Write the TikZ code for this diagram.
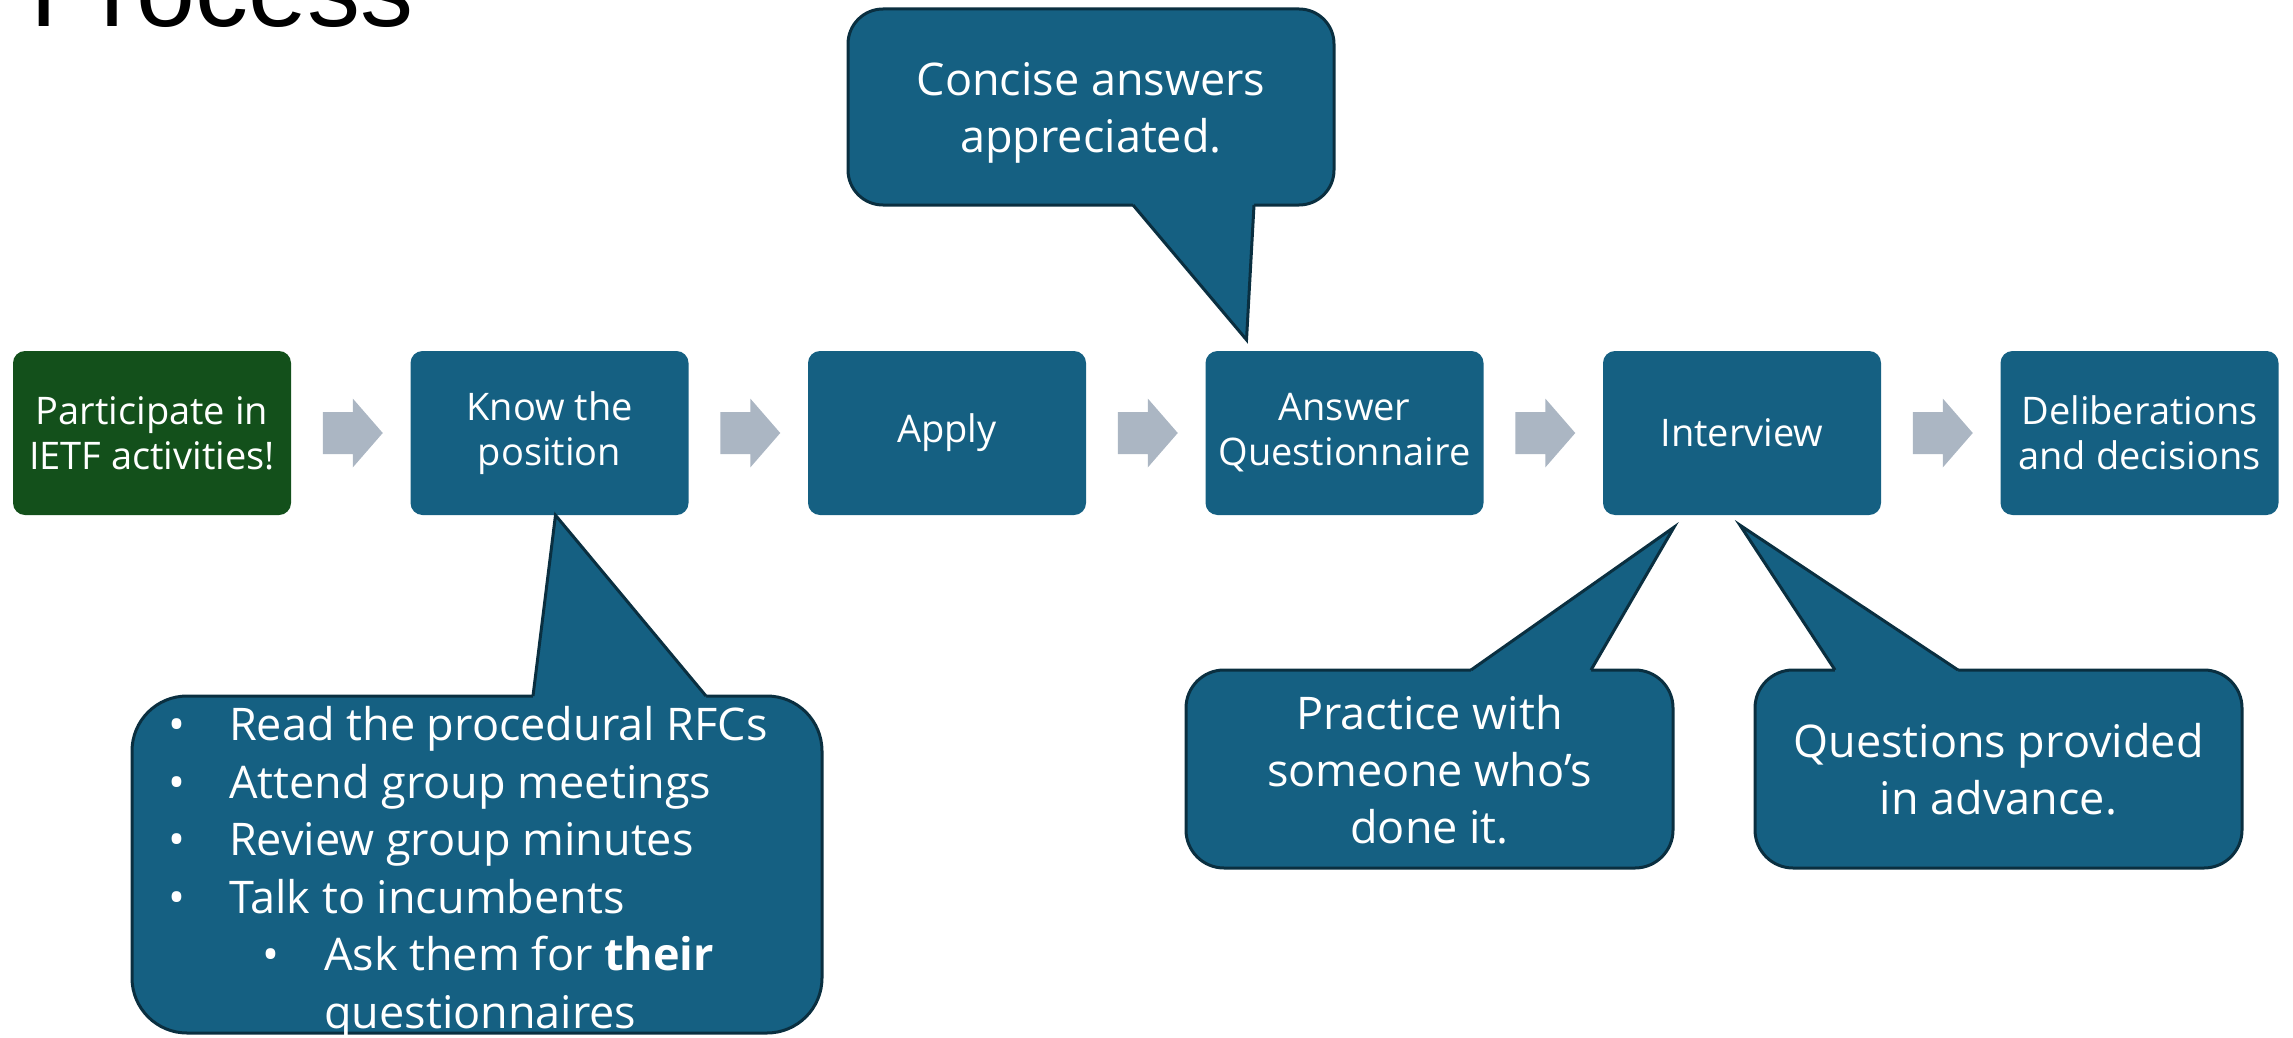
\documentclass[tikz,border=0pt]{standalone}
\usepackage{fontspec}
\setmainfont{Open Sans}
\newfontfamily\titlefont{Liberation Sans}
\usetikzlibrary{calc}

\definecolor{stepblue}{HTML}{156082}
\definecolor{stepgreen}{HTML}{13501B}
\definecolor{calloutline}{HTML}{0A2F40}
\definecolor{arrowgray}{HTML}{ABB6C3}

\tikzset{
  stepbox/.style={rectangle, rounded corners=12pt, fill=stepblue, text=white,
    minimum width=278pt, minimum height=164pt, align=center, inner sep=0pt,
    font=\fontsize{38}{45}\selectfont},
  callout/.style={rectangle, rounded corners=35pt, fill=stepblue, draw=calloutline,
    line width=3pt, outer sep=0pt, text=white, align=center, inner sep=0pt,
    text depth=0pt, font=\fontsize{45}{57}\selectfont},
  tailedge/.style={draw=calloutline, line width=3pt},
  listtext/.style={text=white, align=left, inner sep=0pt, font=\fontsize{45}{57.6}\selectfont},
  flowarrow/.style={fill=arrowgray},
}

\begin{document}
\begin{tikzpicture}[x=1pt, y=-1pt]
\useasboundingbox (0,0) rectangle (2293,1038);

% heading, cut off by the top edge
\node[anchor=base west, inner sep=0pt, font=\titlefont\fontsize{106}{120}\selectfont] (title) at (30,27) {Process};

% process steps
\node[stepbox, fill=stepgreen] (part) at (152,433) {Participate in\\IETF activities!};
\node[stepbox] (know) at (549.5,433) {Know the\\position};
\node[stepbox] (apply) at (947,433) {Apply};
\node[stepbox] (answer) at (1344.5,433) {Answer\\Questionnaire};
\node[stepbox] (interview) at (1742,433) {Interview};
\node[stepbox] (decide) at (2139.5,433) {Deliberations\\and decisions};

% block arrows between the steps
\foreach \a/\b in {part/know, know/apply, apply/answer, answer/interview, interview/decide}
  \fill[flowarrow] ($(\a.east)!0.5!(\b.west)+(-28,-21)$) -- ++(30,0) -- ++(0,-13.5) -- ++(30,34.5)
    -- ++(-30,34.5) -- ++(0,-13.5) -- ++(-30,0) -- cycle;

% callout over the questionnaire
\node[callout, minimum width=486pt, minimum height=196pt] (concise) at (1091,107) {Concise answers\\appreciated.};
\coordinate (concise-l) at ($(concise.south)+(42,0)$);
\coordinate (concise-r) at ($(concise.south)+(163,0)$);
\coordinate (concise-tip) at ($(answer.north)+(-98,-11)$);
\fill[stepblue] ($(concise-l)+(0,-5)$) -- (concise-l) -- (concise-tip) -- (concise-r) -- ($(concise-r)+(0,-5)$) -- cycle;
\draw[tailedge] (concise-l) -- (concise-tip) -- (concise-r);

% callout under the position
\node[callout, rounded corners=55pt, minimum width=690pt, minimum height=337pt] (tips) at (477,864.5) {};
\coordinate (tips-l) at ($(tips.north)+(56,0)$);
\coordinate (tips-r) at ($(tips.north)+(229,0)$);
\coordinate (tips-tip) at ($(know.south)+(6,0)$);
\fill[stepblue] ($(tips-l)+(0,5)$) -- (tips-l) -- (tips-tip) -- (tips-r) -- ($(tips-r)+(0,5)$) -- cycle;
\draw[tailedge] (tips-l) -- (tips-tip) -- (tips-r);
\node[listtext, anchor=north west] (tiplist) at (168,706) {%
  \makebox[61pt][l]{\textbullet}Read the procedural RFCs\\
  \makebox[61pt][l]{\textbullet}Attend group meetings\\
  \makebox[61pt][l]{\textbullet}Review group minutes\\
  \makebox[61pt][l]{\textbullet}Talk to incumbents\\
  \hspace*{94.5pt}\makebox[61.5pt][l]{\textbullet}Ask them for \textbf{their}\\
  \hspace*{156pt}questionnaires};

% callouts under the interview
\node[callout, rounded corners=38pt, minimum width=487pt, minimum height=198pt] (practice) at (1429.5,769) {Practice with\\someone who’s\\done it.};
\coordinate (practice-l) at ($(practice.north)+(41.5,0)$);
\coordinate (practice-r) at ($(practice.north)+(161.5,0)$);
\coordinate (practice-tip) at ($(interview.south)+(-68,12)$);
\fill[stepblue] ($(practice-l)+(0,5)$) -- (practice-l) -- (practice-tip) -- (practice-r) -- ($(practice-r)+(0,5)$) -- cycle;
\draw[tailedge] (practice-l) -- (practice-tip) -- (practice-r);

\node[callout, rounded corners=38pt, minimum width=487pt, minimum height=198pt] (advance) at (1998.5,769) {Questions provided\\in advance.};
\coordinate (advance-l) at ($(advance.north)+(-163.5,0)$);
\coordinate (advance-r) at ($(advance.north)+(-40.5,0)$);
\coordinate (advance-tip) at ($(interview.south)+(-2,10)$);
\fill[stepblue] ($(advance-l)+(0,5)$) -- (advance-l) -- (advance-tip) -- (advance-r) -- ($(advance-r)+(0,5)$) -- cycle;
\draw[tailedge] (advance-l) -- (advance-tip) -- (advance-r);
\end{tikzpicture}
\end{document}
